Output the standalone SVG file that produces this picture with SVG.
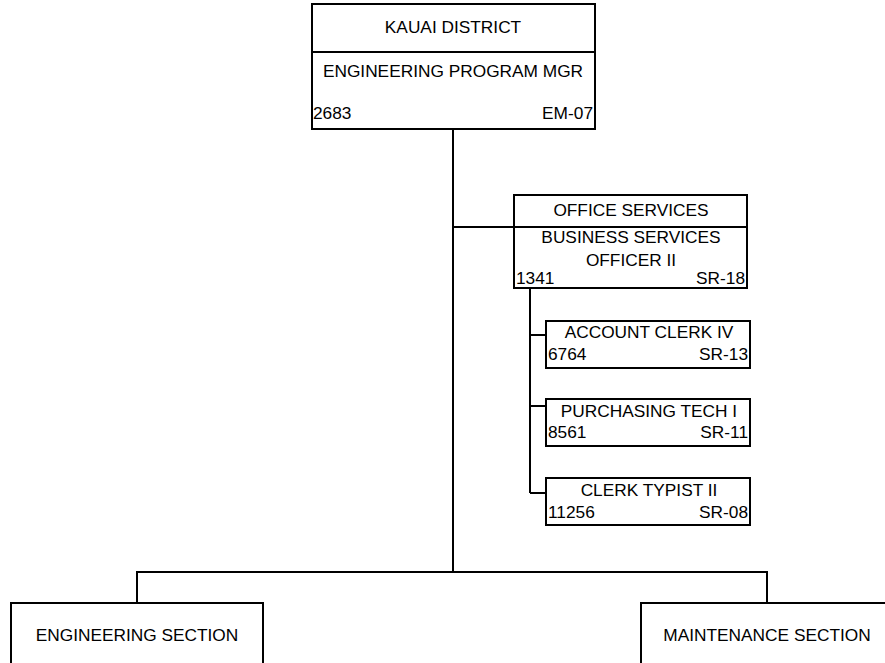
<svg xmlns="http://www.w3.org/2000/svg" width="885" height="663" viewBox="0 0 885 663">
  <style>
    .box { fill: #fff; stroke: #000; stroke-width: 2; }
    .ln { fill: none; stroke: #000; stroke-width: 2; }
    text { font-family: "Liberation Sans", Arial, sans-serif; font-size: 17.3px; fill: #000; }
    .c { text-anchor: middle; }
    .r { text-anchor: end; }
  </style>
  <rect width="885" height="663" fill="#fff"/>

  <!-- connectors -->
  <g id="connectors" class="ln">
    <path d="M453 129 V572"/>
    <path d="M453 227 H514"/>
    <path d="M530 288 V493"/>
    <path d="M530 335 H546"/>
    <path d="M530 406 H546"/>
    <path d="M530 493 H546"/>
    <path d="M137 603 V572 H767 V603"/>
  </g>

  <g id="kauai-district">
    <rect class="box" x="312" y="4" width="283" height="125"/>
    <line class="ln" x1="312" y1="52" x2="595" y2="52"/>
    <text class="c" x="453" y="33">KAUAI DISTRICT</text>
    <text class="c" x="453" y="77">ENGINEERING PROGRAM MGR</text>
    <text x="313" y="119">2683</text>
    <text class="r" x="593" y="119">EM-07</text>
  </g>

  <g id="office-services">
    <rect class="box" x="514" y="195" width="233" height="93"/>
    <line class="ln" x1="514" y1="227" x2="747" y2="227"/>
    <text class="c" x="631" y="216">OFFICE SERVICES</text>
    <text class="c" x="631" y="243">BUSINESS SERVICES</text>
    <text class="c" x="631" y="266">OFFICER II</text>
    <text x="516" y="284">1341</text>
    <text class="r" x="745" y="284">SR-18</text>
  </g>

  <g id="account-clerk">
    <rect class="box" x="546" y="321" width="204" height="47"/>
    <text class="c" x="649" y="338">ACCOUNT CLERK IV</text>
    <text x="548" y="360">6764</text>
    <text class="r" x="748" y="360">SR-13</text>
  </g>

  <g id="purchasing-tech">
    <rect class="box" x="546" y="399" width="204" height="47"/>
    <text class="c" x="649" y="417">PURCHASING TECH I</text>
    <text x="548" y="438">8561</text>
    <text class="r" x="748" y="438">SR-11</text>
  </g>

  <g id="clerk-typist">
    <rect class="box" x="546" y="478" width="204" height="47"/>
    <text class="c" x="649" y="496">CLERK TYPIST II</text>
    <text x="548" y="518">11256</text>
    <text class="r" x="748" y="518">SR-08</text>
  </g>

  <g id="engineering-section">
    <rect class="box" x="11" y="603" width="252" height="80"/>
    <text class="c" x="137" y="641">ENGINEERING SECTION</text>
  </g>

  <g id="maintenance-section">
    <rect class="box" x="641" y="603" width="260" height="80"/>
    <text class="c" x="767" y="641">MAINTENANCE SECTION</text>
  </g>
</svg>
